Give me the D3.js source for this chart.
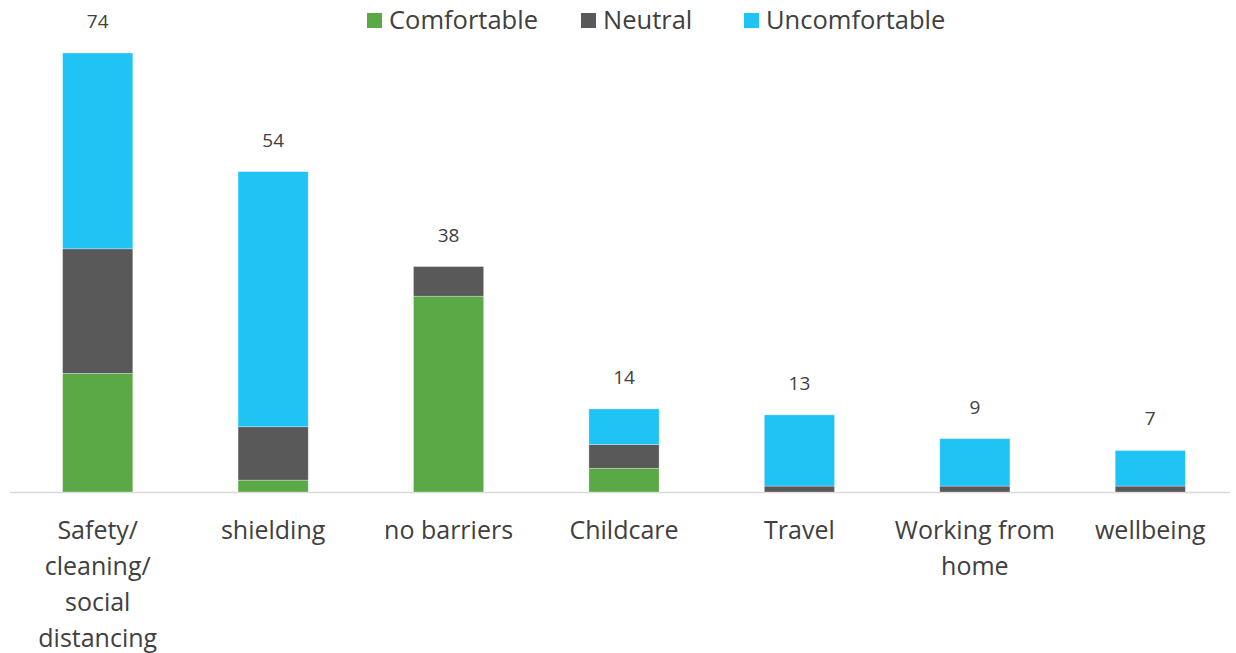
<!DOCTYPE html>
<html><head><meta charset="utf-8">
<script src="https://cdn.jsdelivr.net/npm/d3@7"></script>
<style>html,body{margin:0;padding:0;background:#fff;}svg{display:block;font-family:"Open Sans",sans-serif;}</style>
</head><body>
<svg id="c" width="1236" height="653"></svg>
<script>
const categories = ["Safety/ cleaning/ social distancing","shielding","no barriers","Childcare","Travel","Working from home","wellbeing"];
const seriesNames = ["Comfortable","Neutral","Uncomfortable"];
const comfortable = [20, 2, 33, 4, 0, 0, 0];
const neutral = [21, 9, 5, 4, 1, 1, 1];
const uncomfortable = [33, 43, 0, 6, 12, 8, 6];
const colors = ["#5BA946","#595959","#1FC4F4"];

const svg = d3.select("#c");
const x = d3.scaleBand().domain(categories).range([10, 1238]).paddingInner(0.6).paddingOuter(0.3);
const y = d3.scaleLinear().domain([0, 74]).range([492, 53]);

const rows = categories.map((c,i)=>({cat:c, Comfortable:comfortable[i], Neutral:neutral[i], Uncomfortable:uncomfortable[i]}));
const stack = d3.stack().keys(seriesNames)(rows);

// axis line
svg.append("line").attr("x1",10).attr("x2",1230).attr("y1",y(0)+0.5).attr("y2",y(0)+0.5)
  .attr("stroke","#d9d9d9").attr("stroke-width",1.5);

stack.forEach((s,si)=>{
  svg.append("g").selectAll("rect").data(s.filter(d=>d[1]-d[0]>0)).join("rect")
    .attr("x",d=>x(d.data.cat))
    .attr("width",x.bandwidth())
    .attr("y",d=>y(d[1]))
    .attr("height",d=>y(d[0])-y(d[1]))
    .attr("fill",colors[si])
    .attr("stroke","#ffffff").attr("stroke-opacity",0.4).attr("stroke-width",0.75);
});

// totals
svg.append("g").selectAll("text").data(rows).join("text")
  .attr("x",d=>x(d.cat)+x.bandwidth()/2)
  .attr("y",d=>y(d.Comfortable+d.Neutral+d.Uncomfortable)-25)
  .attr("text-anchor","middle").attr("font-size",19).attr("fill","#404040")
  .text(d=>d.Comfortable+d.Neutral+d.Uncomfortable);

// category labels (wrapped)
const wrapWidth = 175;
const fs = 25;
const labG = svg.append("g");
categories.forEach(c=>{
  const t = labG.append("text").attr("text-anchor","middle").attr("font-size",fs).attr("fill","#404040");
  const cx = x(c)+x.bandwidth()/2;
  const words = c.split(" ");
  let lines=[], cur="";
  const meas = svg.append("text").attr("font-size",fs);
  words.forEach(w=>{
    const test = cur? cur+" "+w : w;
    meas.text(test);
    if (meas.node().getComputedTextLength() > wrapWidth && cur){ lines.push(cur); cur=w; } else cur=test;
  });
  lines.push(cur);
  meas.remove();
  lines.forEach((l,i)=>t.append("tspan").attr("x",cx).attr("y",539+i*36).text(l));
});

// legend
const legX = [367, 581, 744];
const lg = svg.append("g");
seriesNames.forEach((n,i)=>{
  lg.append("rect").attr("x",legX[i]).attr("y",13).attr("width",15).attr("height",15).attr("fill",colors[i]);
  lg.append("text").attr("x",legX[i]+22).attr("y",29).attr("font-size",25.5).attr("fill","#404040").text(n);
});
</script>
</body></html>
